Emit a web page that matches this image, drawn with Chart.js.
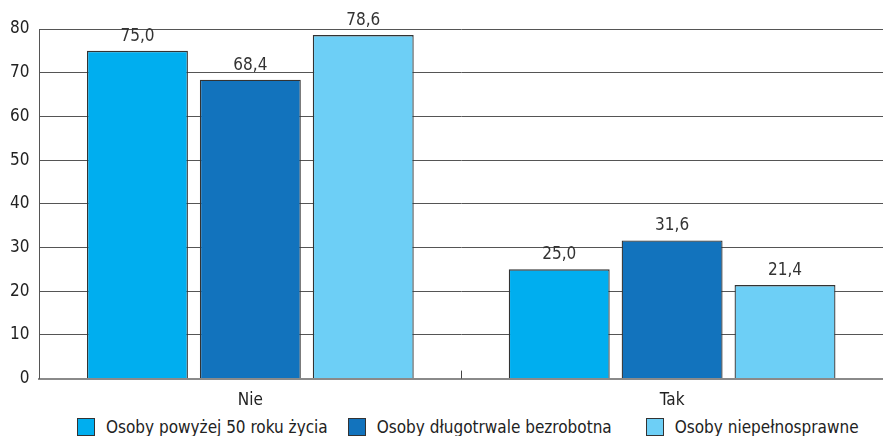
<!DOCTYPE html>
<html>
<head>
<meta charset="utf-8">
<script src="https://cdn.jsdelivr.net/npm/chart.js@4"></script>
<style>
html,body{margin:0;padding:0;background:#fff;overflow:hidden;}
#wrap{position:relative;width:883px;height:436px;overflow:hidden;}
#box{position:absolute;left:0;top:0;width:883px;height:415px;}
#legend{position:absolute;left:0;top:417px;width:883px;display:flex;align-items:flex-start;padding-left:77px;box-sizing:border-box;
  font-family:'DejaVu Sans Condensed','DejaVu Sans',sans-serif;font-stretch:condensed;font-size:17px;color:#222;line-height:20px;white-space:nowrap;}
#legend .item{display:flex;align-items:flex-start;}
#legend .sw{width:18px;height:18px;border:1px solid #333;box-sizing:border-box;margin-top:1px;margin-right:11px;}
</style>
</head>
<body>
<div id="wrap"><div id="box"><canvas id="c"></canvas></div><div id="legend"></div></div>
<script>
const categories = ["Nie", "Tak"];
const seriesNames = ["Osoby powyżej 50 roku życia", "Osoby długotrwale bezrobotna", "Osoby niepełnosprawne"];
const over50 = [75.0, 25.0];
const longTerm = [68.4, 31.6];
const disabled = [78.6, 21.4];
const colors = ["#00AEEF", "#1273BD", "#6DCFF6"];
const FONT = "'Liberation Sans Narrow', 'DejaVu Sans Condensed', 'Arial Narrow', sans-serif";

const valueLabels = {
  id: 'valueLabels',
  afterDatasetsDraw(chart) {
    const ctx = chart.ctx;
    ctx.save();
    ctx.font = "17px " + FONT;
    ctx.fillStyle = "#333";
    ctx.textAlign = "center";
    ctx.textBaseline = "bottom";
    chart.data.datasets.forEach((ds, i) => {
      chart.getDatasetMeta(i).data.forEach((bar, j) => {
        ctx.fillText(ds.data[j].toFixed(1).replace('.', ','), bar.x, bar.y - 6);
      });
    });
    // middle category separator tick on x axis
    const xs = chart.scales.x;
    const mid = (xs.getPixelForValue(0) + xs.getPixelForValue(1)) / 2;
    ctx.strokeStyle = "#444";
    ctx.lineWidth = 1;
    ctx.beginPath();
    ctx.moveTo(Math.round(mid) + 0.5, xs.top - 8);
    ctx.lineTo(Math.round(mid) + 0.5, xs.top);
    ctx.stroke();
    ctx.restore();
  }
};

const chart = new Chart(document.getElementById('c'), {
  type: 'bar',
  data: {
    labels: categories,
    datasets: [
      { label: seriesNames[0], data: over50, backgroundColor: colors[0] },
      { label: seriesNames[1], data: longTerm, backgroundColor: colors[1] },
      { label: seriesNames[2], data: disabled, backgroundColor: colors[2] }
    ].map(d => Object.assign(d, { borderColor: "#333", borderWidth: 1.3, categoryPercentage: 0.803, barPercentage: 0.894 }))
  },
  options: {
    responsive: true,
    maintainAspectRatio: false,
    animation: false,
    layout: { padding: { top: 29, right: 0, left: 0, bottom: 0 } },
    plugins: {
      tooltip: { enabled: false },
      legend: { display: false }
    },
    scales: {
      x: {
        grid: { display: false },
        border: { display: true, color: "#8a8a8a", width: 2 },
        ticks: { font: { family: FONT, size: 17 }, color: "#222", padding: 4 }
      },
      y: {
        min: 0, max: 80,
        ticks: { stepSize: 10, font: { family: FONT, size: 17 }, color: "#222", padding: 10 },
        grid: { color: "#555", lineWidth: 1, drawTicks: false },
        border: { display: true, color: "#555", width: 1 }
      }
    }
  },
  plugins: [valueLabels]
});

// HTML legend built from the chart's datasets
const legendEl = document.getElementById('legend');
const gaps = [0, 20, 34];
chart.data.datasets.forEach((d, i) => {
  const item = document.createElement('div');
  item.className = 'item';
  item.style.marginLeft = gaps[i] + 'px';
  const sw = document.createElement('span');
  sw.className = 'sw';
  sw.style.background = d.backgroundColor;
  const tx = document.createElement('span');
  tx.textContent = d.label;
  item.appendChild(sw);
  item.appendChild(tx);
  legendEl.appendChild(item);
});
</script>
</body>
</html>
